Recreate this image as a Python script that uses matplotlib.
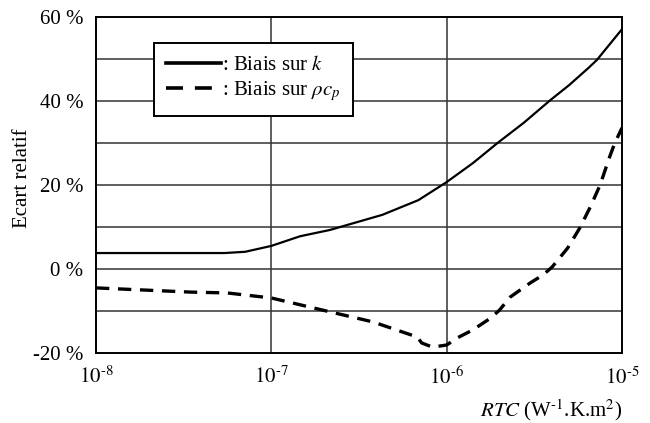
import matplotlib
matplotlib.use("Agg")
import matplotlib.pyplot as plt
from matplotlib.ticker import FixedLocator, FixedFormatter

plt.rcParams['font.family'] = ['Liberation Serif', 'DejaVu Serif']
plt.rcParams['mathtext.fontset'] = 'stix'

# Bias on k (solid)
rtc_k = [1.0e-8, 5.4e-8, 7.1e-8, 1.0e-7, 1.46e-7, 2.16e-7, 4.3e-7, 6.9e-7,
         1.0e-6, 1.41e-6, 1.95e-6, 2.75e-6, 3.9e-6, 5.0e-6, 6.45e-6, 7.2e-6, 1.0e-5]
bias_k = [3.8, 3.8, 4.1, 5.5, 7.8, 9.3, 12.9, 16.4,
          20.7, 25.2, 30.0, 34.8, 40.2, 43.8, 47.9, 49.8, 57.1]

# Bias on rho*cp (dashed)
rtc_rcp = [1.0e-8, 1.86e-8, 3.47e-8, 5.6e-8, 1.0e-7, 2.16e-7, 3.8e-7, 5.6e-7,
           6.8e-7, 7.2e-7, 8.3e-7, 1.0e-6, 1.15e-6, 1.41e-6, 1.78e-6, 2.0e-6,
           2.3e-6, 3.0e-6, 3.55e-6, 4.0e-6, 4.9e-6, 5.75e-6, 6.6e-6, 7.5e-6,
           8.5e-6, 9.1e-6, 1.0e-5]
bias_rcp = [-4.5, -5.0, -5.5, -5.7, -6.9, -10.2, -12.6, -15.0,
            -16.2, -17.6, -18.6, -18.1, -16.4, -14.5, -11.7, -9.8,
            -6.7, -3.3, -1.4, 0.5, 5.0, 9.8, 14.8, 20.0,
            26.7, 30.0, 33.6]

x_ticks = [1e-8, 1e-7, 1e-6, 1e-5]
x_tick_labels = [r"$10^{\text{-8}}$", r"$10^{\text{-7}}$",
                 r"$10^{\text{-6}}$", r"$10^{\text{-5}}$"]
y_ticks = [-20, 0, 20, 40, 60]
y_tick_labels = ["-20 %", "0 %", "20 %", "40 %", "60 %"]
y_grid = [-10, 0, 10, 20, 30, 40, 50]

FS = 15

fig = plt.figure(figsize=(6.5, 4.23), dpi=100)
ax = fig.add_axes([96/650, 70/423, 526/650, 336/423])

ax.set_xscale('log')
ax.set_xlim(1e-8, 1e-5)
ax.set_ylim(-20, 60)

for yv in y_grid:
    ax.axhline(yv, color='#333333', lw=1.1, zorder=1)
for xv in x_ticks[1:-1]:
    ax.axvline(xv, color='#333333', lw=1.1, zorder=1)

ax.plot(rtc_k, bias_k, color='black', lw=1.6, zorder=3,
        label=r": Biais sur $k$")
ax.plot(rtc_rcp, bias_rcp, color='black', lw=2.4, dashes=(4, 2.6), zorder=3,
        label=r": Biais sur $\rho c_p$")

ax.xaxis.set_major_locator(FixedLocator(x_ticks))
ax.xaxis.set_major_formatter(FixedFormatter(x_tick_labels))
ax.xaxis.set_minor_locator(FixedLocator([]))
ax.yaxis.set_major_locator(FixedLocator(y_ticks))
ax.yaxis.set_major_formatter(FixedFormatter(y_tick_labels))
ax.tick_params(axis='both', length=0, labelsize=FS)
ax.tick_params(axis='x', pad=10)
ax.tick_params(axis='y', pad=9)

for sp in ax.spines.values():
    sp.set_linewidth(1.4)
    sp.set_color('black')
    sp.set_zorder(4)

ax.set_ylabel("Ecart relatif", fontsize=FS)
ax.yaxis.set_label_coords(-0.122, 0.521)
fig.text(551/650, 1 - 410/423, r"$RTC$ (W$^{\text{-1}}$.K.m$^{2}$)", fontsize=FS,
         ha='center', va='center')

leg = ax.legend(loc='upper left', bbox_to_anchor=(0.110, 0.923),
                borderaxespad=0, fancybox=False, framealpha=1,
                edgecolor='black', fontsize=FS, handlelength=2.6,
                handletextpad=0.05, borderpad=0.6, labelspacing=0.2)
leg.get_frame().set_linewidth(1.4)
for line in leg.get_lines():
    line.set_linewidth(2.6)
leg.get_lines()[1].set_dashes((4.7, 3.3))

fig.savefig("out.png", dpi=100)
